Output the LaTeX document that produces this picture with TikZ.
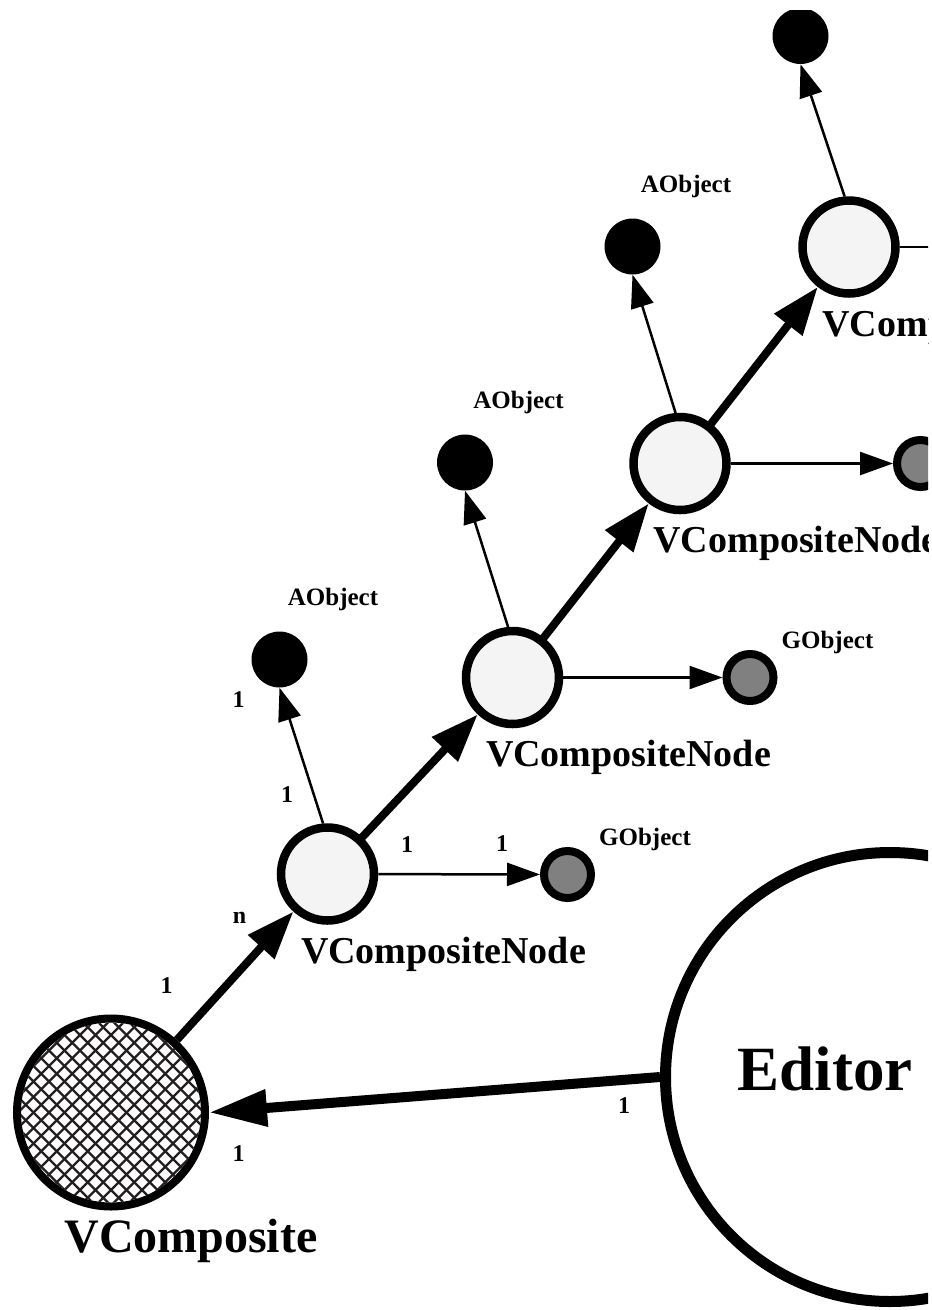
\documentclass[tikz,border=0pt]{standalone}
\usepackage{fontspec}
\setmainfont{Liberation Serif}
\usetikzlibrary{arrows.meta,calc}
\definecolor{nodefill}{HTML}{F4F4F4}
\definecolor{gfill}{HTML}{808080}
\definecolor{hatchc}{HTML}{231F20}

\begin{document}
\begin{tikzpicture}[x=1pt,y=-1pt,
  vnode/.style={circle,draw,line width=8.5pt,fill=nodefill,minimum size=93pt,inner sep=0pt},
  adot/.style={circle,fill=black,minimum size=56pt,inner sep=0pt},
  gdot/.style={circle,draw,line width=8pt,fill=gfill,minimum size=47pt,inner sep=0pt},
  nlabel/.style={font=\fontsize{38}{38}\selectfont\bfseries,anchor=base,inner sep=0pt},
  olabel/.style={font=\fontsize{25}{25}\selectfont\bfseries,anchor=base,inner sep=0pt},
  mult/.style={font=\fontsize{24}{24}\selectfont\bfseries,inner sep=0pt},
  bigarrow/.style={line width=8pt,-{Triangle[length=48pt,width=34pt]}},
  smallarrow/.style={line width=2.5pt,-{Triangle[length=33pt,width=23pt]}},
  hatchline/.style={draw=hatchc,line width=2.2pt},
]
\useasboundingbox (0,0) rectangle (932,1310);
\begin{scope}
\clip (0,10) rectangle (928,1310);

% composite nodes along the diagonal chain
\node[vnode] (N1) at (327.5,874) {};
\node[vnode] (N2) at (512.5,677.5) {};
\node[vnode] (N3) at (680,463.5) {};
\node[vnode] (N4) at (849,247) {};

% attached AObject dots
\node[adot] (A1) at (279.5,659.5) {};
\node[adot] (A2) at (465,462.5) {};
\node[adot] (A3) at (632.5,246.5) {};
\node[adot] (A4) at (800.5,36) {};

% attached GObject dots
\node[gdot] (G1) at (567.5,874.5) {};
\node[gdot] (G2) at (750,677.5) {};
\node[gdot] (G3) at (920.5,463.5) {};
\coordinate (G4) at (1000,247);

% the hatched VComposite root
\node[circle,draw,line width=8pt,fill=white,minimum size=188pt,inner sep=0pt] (VC) at (111,1112.5) {};
\begin{scope}
  \clip (VC.center) circle (90pt);
  \foreach \k in {-14,...,14}{
    \path[hatchline] ($(VC.center)+(\k*15.5-100,-100)$) -- ++(200,200);
    \path[hatchline] ($(VC.center)+(\k*15.5-100,100)$) -- ++(200,-200);
  }
\end{scope}

% the Editor
\node[circle,draw,line width=11pt,minimum size=449pt,inner sep=0pt] (Ed) at (890,1077) {};
\node[font=\fontsize{63}{63}\selectfont\bfseries,anchor=base,inner sep=0pt] (EdT) at (825,1090) {Editor};

% names
\node[font=\fontsize{48}{48}\selectfont\bfseries,anchor=base,inner sep=0pt] (VCt) at (191,1252) {VComposite};
\node[nlabel] (N1t) at ($(N1)+(116,89)$) {VCompositeNode};
\node[nlabel] (N2t) at ($(N2)+(116,89)$) {VCompositeNode};
\node[nlabel] (N3t) at ($(N3)+(116,89)$) {VCompositeNode};
\node[nlabel] (N4t) at ($(N4)+(116,89)$) {VCompositeNode};
\node[olabel] (A1t) at ($(A1)+(53.5,-54.5)$) {AObject};
\node[olabel] (A2t) at ($(A2)+(53.5,-54.5)$) {AObject};
\node[olabel] (A3t) at ($(A3)+(53.5,-54.5)$) {AObject};
\node[olabel] (G1t) at ($(G1)+(77.5,-29)$) {GObject};
\node[olabel] (G2t) at ($(G2)+(77.5,-29)$) {GObject};

% connectors
\draw[bigarrow] (VC) -- (N1);
\draw[bigarrow,shorten <=-5pt] (N1) -- (N2);
\draw[bigarrow,shorten <=-5pt] (N2) -- (N3);
\draw[bigarrow,shorten <=-5pt] (N3) -- (N4);
\draw[smallarrow] (N1.95) -- (A1.south);
\draw[smallarrow] (N2.95) -- (A2.south);
\draw[smallarrow] (N3.95) -- (A3.south);
\draw[smallarrow] (N4.95) -- (A4.south);
\draw[smallarrow] (N1) -- (G1);
\draw[smallarrow] (N2) -- (G2);
\draw[smallarrow] (N3) -- (G3);
\draw[line width=2.5pt] (N4) -- (G4);
\draw[line width=10pt,-{Triangle[length=58pt,width=35pt]}] (Ed.west) -- (VC.east);

% multiplicities
\node[mult] (m1) at (238.5,699.5) {1};
\node[mult] (m2) at (287,795) {1};
\node[mult] (m3) at (407,845) {1};
\node[mult] (m4) at (502,843.5) {1};
\node[mult] (m5) at (239.5,917.5) {n};
\node[mult] (m6) at (166.5,986) {1};
\node[mult] (m7) at (238.5,1154) {1};
\node[mult] (m8) at (624,1106) {1};
\end{scope}
\end{tikzpicture}
\end{document}
